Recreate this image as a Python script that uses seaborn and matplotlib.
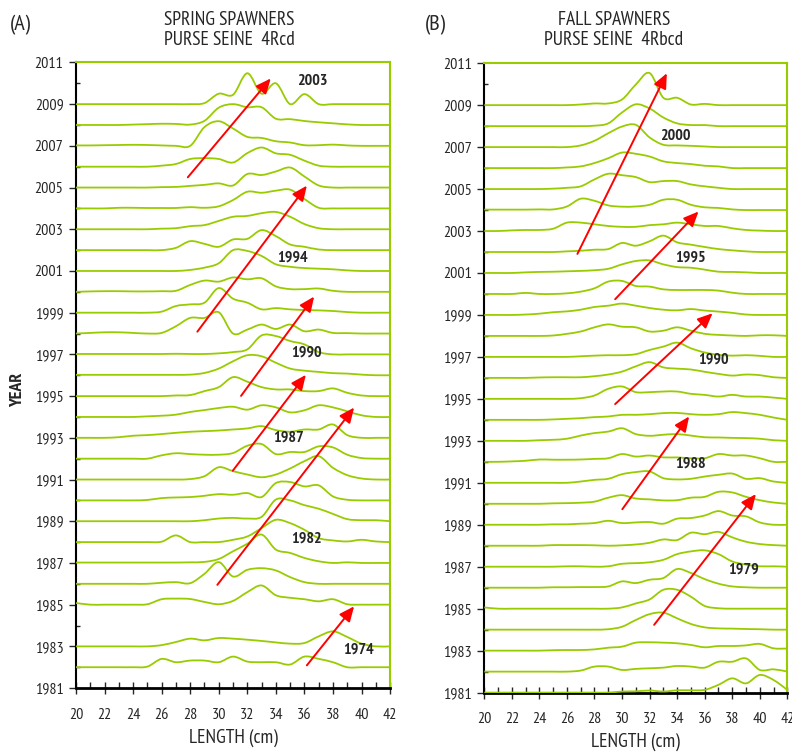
import numpy as np
import matplotlib
matplotlib.use('Agg')
import matplotlib.pyplot as plt
from matplotlib import font_manager
from matplotlib.path import Path
from matplotlib.patches import PathPatch
from matplotlib.ticker import MultipleLocator
import seaborn as sns

# length bins (cm)
lengths = list(range(20, 43))

# (A) spring spawners - relative frequency per length bin, in "year" units above the baseline
spring_years = [2009, 2008, 2007, 2006, 2005, 2004, 2003, 2002, 2001, 2000, 1999, 1998, 1997,
                1996, 1995, 1994, 1993, 1992, 1991, 1990, 1989, 1988, 1987, 1986, 1985, 1983, 1982]
spring_freq = [
    [0, 0, 0, 0, 0, 0, 0, 0, 0, 0.05, 0.5, 0.45, 1.48, 0.5, 1.0, 0, 0.48, 0, 0, 0, 0, 0, 0],
    [0, 0, 0, 0, 0.02, 0.04, 0.06, 0.05, 0.02, 0.2, 0.83, 1.0, 0.85, 0.85, 0.3, 0.28, 0.19, 0.13, 0.08, 0.03, 0, 0, 0],
    [0.02, 0.02, 0.03, 0.04, 0.05, 0.04, 0.02, 0, 0, 0.9, 1.18, 0.83, 0.43, 0.38, 0.22, 0.16, 0.03, 0.03, 0.06, 0.02, 0, 0, 0],
    [0, 0, 0, 0, 0, 0, 0.05, 0.13, 0.37, 0.41, 0.37, 0.2, 0.65, 0.92, 0.64, 0.57, 0.29, 0.05, 0, 0, 0, 0, 0],
    [0, 0, 0, 0, 0, 0, 0.02, 0.03, 0.08, 0.13, 0.2, 0.1, 0.65, 0.6, 0.77, 0.96, 0.53, 0.1, 0, 0, 0, 0, 0],
    [0, 0, 0, 0.03, 0.03, 0.02, 0.02, 0.02, 0.06, 0.03, 0.1, 0.4, 0.8, 0.75, 0.85, 0.9, 0.45, 0.03, 0, 0, 0, 0, 0],
    [0, 0, 0, 0, 0, 0, 0.03, 0.05, 0.15, 0.2, 0.4, 0.6, 0.64, 0.77, 0.83, 0.6, 0.25, 0.05, 0, 0, 0, 0, 0],
    [0, 0, 0, 0, 0, 0, 0, 0.11, 0.43, 0.3, 0.16, 0.51, 0.54, 0.96, 0.67, 0.27, 0.16, 0.03, 0, 0, 0, 0, 0],
    [0, 0, 0, 0, 0, 0, 0, 0, 0.05, 0.16, 0.37, 1.0, 0.96, 0.72, 0.32, 0.2, 0.14, 0.11, 0.08, 0.03, 0, 0, 0],
    [0, 0.02, 0.03, 0.03, 0.02, 0.02, 0.03, 0.05, 0.33, 0.54, 0.49, 0.69, 0.6, 0.65, 0.26, 0.13, 0.13, 0.16, 0.05, 0, 0, 0, 0],
    [0, 0, 0, 0, 0, 0, 0.05, 0.32, 0.4, 0.48, 1.18, 0.67, 0.48, 0.16, 0.22, 0.16, 0.13, 0.11, 0.08, 0.03, 0, 0, 0],
    [0, 0.03, 0.06, 0.06, 0.03, 0, 0.03, 0.35, 0.75, 0.75, 1.02, 0, 0.19, 0.43, 0.22, 0.43, 0.11, 0.19, 0.03, 0.02, 0, 0, 0],
    [0.02, 0.02, 0.02, 0.02, 0.02, 0.02, 0.02, 0.03, 0.02, 0.02, 0.05, 0.11, 0.24, 0.91, 0.88, 0.64, 0.48, 0.11, 0, 0, 0, 0, 0],
    [0.02, 0.02, 0.02, 0.02, 0.02, 0.02, 0.02, 0.02, 0.03, 0.11, 0.32, 0.67, 0.96, 0.91, 0.6, 0.32, 0.22, 0.16, 0.1, 0.08, 0.03, 0, 0],
    [0, 0, 0, 0, 0, 0, 0, 0.03, 0.05, 0.24, 0.43, 0.91, 0.69, 0.43, 0.32, 0.32, 0.24, 0.24, 0.37, 0.16, 0.03, 0, 0],
    [0, 0, 0, 0, 0, 0.03, 0.06, 0.11, 0.24, 0.33, 0.43, 0.49, 0.35, 0.56, 0.46, 0.22, 0.32, 0.56, 0.46, 0.27, 0.08, 0, 0],
    [0, 0, 0, 0.03, 0.1, 0.13, 0.18, 0.24, 0.29, 0.32, 0.35, 0.4, 0.45, 0.56, 0.37, 0.29, 0.4, 0.4, 0.64, 0.13, 0, 0, 0],
    [0, 0, 0, 0, 0, 0, 0.16, 0.26, 0.22, 0.19, 0.19, 0.27, 0.62, 0.7, 0.22, 0.32, 0.32, 0.59, 0.54, 0.19, 0.03, 0, 0],
    [0, 0, 0, 0, 0, 0, 0, 0, 0.02, 0.16, 0.59, 0.4, 0.24, 0.11, 0.24, 0.53, 0.88, 1.12, 0.56, 0.21, 0.05, 0, 0],
    [0, 0, 0, 0, 0, 0.02, 0.11, 0.14, 0.16, 0.22, 0.3, 0.27, 0.35, 0.16, 0.83, 0.88, 0.67, 0.72, 0.19, 0.03, 0, 0, 0],
    [0, 0, 0, 0, 0, 0, 0, 0, 0, 0.05, 0.13, 0.16, 0.13, 0.21, 1.04, 1.0, 0.77, 0.6, 0.35, 0.1, 0.05, 0.05, 0],
    [0, 0, 0, 0, 0, 0, 0.02, 0.32, 0, 0, 0, 0.11, 0.27, 0.67, 1.07, 0.91, 0.59, 0.19, 0.08, 0.03, 0.11, 0.03, 0],
    [0.02, 0.02, 0.02, 0.02, 0.02, 0.02, 0.02, 0.02, 0.03, 0.05, 0.19, 0.56, 0.92, 1.36, 0.64, 0.48, 0.24, 0.08, 0, 0.03, 0, 0, 0],
    [0, 0, 0, 0, 0, 0, 0.05, 0.08, 0.03, 0.48, 1.04, 0.35, 0.67, 0.75, 0.64, 0.32, 0.08, 0, 0, 0, 0, 0, 0],
    [0.08, 0, 0, 0, 0, 0.02, 0.26, 0.29, 0.27, 0.13, 0.02, 0.18, 0.6, 0.92, 0.45, 0.33, 0.26, 0.16, 0.26, 0.02, 0, 0, 0],
    [0, 0, 0, 0, 0, 0, 0.06, 0.21, 0.37, 0.29, 0.4, 0.37, 0.32, 0.26, 0.19, 0.13, 0.16, 0.48, 0.72, 0.45, 0.13, 0, 0],
    [0, 0, 0, 0, 0, 0.03, 0.4, 0.24, 0.32, 0.32, 0.24, 0.51, 0.27, 0.24, 0.24, 0.13, 0.51, 0.4, 0.24, 0, 0, 0, 0],
]

# (B) fall spawners
fall_years = list(range(2009, 1980, -1))
fall_freq = [
    [0, 0, 0, 0, 0, 0, 0, 0.03, 0.08, 0.08, 0.27, 0.98, 1.53, 0.35, 0.35, 0.03, 0.06, 0, 0, 0, 0, 0, 0],
    [0, 0, 0, 0, 0, 0, 0, 0, 0.02, 0.13, 0.65, 1.04, 0.84, 0.41, 0.13, 0.05, 0.05, 0, 0, 0, 0, 0, 0],
    [0, 0, 0, 0, 0, 0, 0, 0.08, 0.3, 0.66, 0.98, 1.06, 0.46, 0.11, 0.08, 0.06, 0.03, 0, 0, 0, 0, 0, 0],
    [0, 0, 0, 0, 0, 0, 0.03, 0.08, 0.24, 0.47, 0.74, 0.68, 0.55, 0.32, 0.24, 0.19, 0.11, 0.08, 0, 0, 0, 0, 0],
    [0, 0, 0, 0, 0, 0.02, 0.06, 0.13, 0.46, 0.73, 0.66, 0.57, 0.33, 0.38, 0.38, 0.22, 0.13, 0.06, 0, 0, 0, 0, 0],
    [0.02, 0.02, 0.02, 0.02, 0.03, 0.03, 0.17, 0.54, 0.44, 0.22, 0.16, 0.17, 0.25, 0.49, 0.49, 0.25, 0.13, 0.1, 0.03, 0, 0, 0, 0],
    [0, 0, 0.03, 0.05, 0.05, 0.11, 0.4, 0.4, 0.32, 0.24, 0.2, 0.2, 0.28, 0.32, 0.4, 0.32, 0.24, 0.24, 0.13, 0.05, 0.02, 0, 0],
    [0, 0, 0, 0, 0, 0, 0.03, 0.06, 0.11, 0.14, 0.43, 0.3, 0.51, 0.78, 0.46, 0.35, 0.24, 0.14, 0.08, 0.03, 0, 0, 0],
    [0, 0, 0, 0.03, 0.05, 0.06, 0.08, 0.1, 0.13, 0.2, 0.41, 0.57, 0.6, 0.41, 0.28, 0.25, 0.16, 0.06, 0.05, 0.03, 0, 0, 0],
    [0, 0, 0, 0.05, 0, 0, 0.03, 0.11, 0.27, 0.59, 0.62, 0.38, 0.35, 0.22, 0.19, 0.19, 0.19, 0.16, 0.06, 0, 0, 0, 0],
    [0, 0, 0, 0.02, 0.06, 0.13, 0.17, 0.25, 0.38, 0.44, 0.54, 0.44, 0.33, 0.25, 0.22, 0.28, 0.21, 0.16, 0.1, 0.02, 0, 0, 0],
    [0, 0, 0, 0, 0, 0.02, 0.1, 0.21, 0.41, 0.55, 0.44, 0.41, 0.21, 0.25, 0.41, 0.25, 0.1, 0.05, 0.02, 0, 0.03, 0.03, 0],
    [0, 0, 0, 0, 0, 0, 0, 0.03, 0.06, 0.08, 0.08, 0.13, 0.33, 0.49, 0.68, 0.41, 0.21, 0.1, 0.06, 0.08, 0.05, 0, 0],
    [0, 0, 0, 0, 0.02, 0.03, 0.03, 0.03, 0.08, 0.16, 0.3, 0.55, 0.75, 0.5, 0.44, 0.4, 0.29, 0.19, 0.11, 0.16, 0.13, 0.03, 0],
    [0, 0, 0, 0, 0, 0, 0, 0.03, 0.16, 0.48, 0.59, 0.32, 0.32, 0.35, 0.35, 0.24, 0.19, 0.11, 0.19, 0.11, 0.11, 0.06, 0],
    [0, 0, 0, 0, 0, 0.02, 0.05, 0.08, 0.13, 0.16, 0.24, 0.24, 0.27, 0.32, 0.33, 0.27, 0.24, 0.27, 0.37, 0.32, 0.24, 0.11, 0],
    [0, 0, 0, 0, 0.03, 0.05, 0.1, 0.25, 0.37, 0.44, 0.6, 0.32, 0.24, 0.29, 0.32, 0.25, 0.17, 0.16, 0.14, 0.13, 0.1, 0.03, 0],
    [0, 0, 0.02, 0.05, 0.11, 0.1, 0.1, 0.11, 0.14, 0.17, 0.37, 0.25, 0.3, 0.21, 0.21, 0.17, 0.17, 0.37, 0.3, 0.3, 0.17, 0, 0],
    [0, 0, 0, 0, 0, 0, 0, 0.06, 0.14, 0.19, 0.41, 0.51, 0.54, 0.22, 0.16, 0.19, 0.3, 0.38, 0.44, 0.19, 0.22, 0.06, 0],
    [0, 0, 0, 0, 0, 0.02, 0.03, 0.05, 0.1, 0.29, 0.41, 0.25, 0.21, 0.16, 0.17, 0.29, 0.33, 0.57, 0.54, 0.33, 0.17, 0.06, 0],
    [0, 0, 0, 0, 0, 0.02, 0.02, 0.05, 0.08, 0.19, 0.08, 0.11, 0.13, 0.05, 0.29, 0.32, 0.44, 0.65, 0.44, 0.4, 0.11, 0, 0],
    [0, 0, 0, 0, 0, 0.03, 0.03, 0.03, 0.02, 0, 0.02, 0.06, 0.14, 0.3, 0.27, 0.62, 0.55, 0.66, 0.4, 0.19, 0.08, 0.03, 0],
    [0, 0, 0, 0, 0, 0, 0.02, 0.02, 0, 0.02, 0.14, 0.17, 0.21, 0.33, 0.6, 0.73, 0.78, 0.6, 0.25, 0.1, 0.02, 0.02, 0],
    [0, 0, 0, 0, 0, 0.02, 0.02, 0.03, 0.03, 0.06, 0.3, 0.22, 0.38, 0.46, 0.89, 0.7, 0.41, 0.19, 0.06, 0.02, 0, 0, 0],
    [0.06, 0, 0, 0, 0, 0, 0, 0, 0, 0, 0.06, 0.25, 0.44, 0.9, 0.9, 0.57, 0.13, 0.02, 0, 0, 0, 0, 0],
    [0, 0, 0, 0, 0, 0, 0, 0, 0, 0.02, 0.14, 0.46, 0.74, 0.81, 0.54, 0.27, 0.11, 0.06, 0.05, 0.03, 0.02, 0, 0],
    [0, 0, 0, 0, 0, 0.02, 0.03, 0.03, 0.06, 0.14, 0.19, 0.38, 0.4, 0.38, 0.35, 0.27, 0.16, 0.22, 0.22, 0.25, 0.32, 0.11, 0.1],
    [0, 0, 0, 0, 0, 0, 0, 0.05, 0.24, 0.24, 0.08, 0.13, 0.16, 0.19, 0.27, 0.24, 0.19, 0.47, 0.47, 0.63, 0.08, 0.11, 0],
    [0, 0, 0, 0, 0, 0, 0, 0, 0, 0, 0.05, 0.06, 0.1, 0.05, 0.11, 0.11, 0.13, 0.37, 0.68, 0.44, 0.84, 0.6, 0.13],
]

# cohort arrows: (tail length, tail year, head length, head year)
spring_arrows = [(27.83, 2005.49, 33.64, 2010.23), (28.5, 1998.09, 36.17, 2005.09),
                 (31.56, 1995.01, 36.68, 1999.77), (30.98, 1991.42, 36.1, 1996.02),
                 (29.9, 1985.95, 39.48, 1994.45), (36.17, 1982.09, 39.48, 1984.92)]
fall_arrows = [(26.76, 2001.91, 33.25, 2010.52), (29.5, 1999.75, 35.55, 2003.93),
               (29.5, 1994.75, 36.57, 1999.08), (30.02, 1989.74, 34.87, 1994.16),
               (32.33, 1984.23, 39.72, 1990.46)]

# year-class labels
spring_cohorts = [('2003', 36.58, 2010.1), ('1994', 35.18, 2001.64), ('1990', 36.16, 1997.08),
                  ('1987', 34.88, 1993.01), ('1982', 36.16, 1988.19), ('1974', 39.78, 1982.84)]
fall_cohorts = [('2000', 33.9, 2007.53), ('1995', 34.95, 2001.75), ('1990', 36.63, 1996.86),
                ('1988', 34.95, 1991.89), ('1979', 38.82, 1986.88)]

GREEN = '#99cc00'

sns.set_style('ticks')


def _w(w):
    if isinstance(w, str):
        return 700 if 'bold' in w.lower() else 400
    return w


# pick a narrow family that also has a bold face
weights = {}
for f in font_manager.fontManager.ttflist:
    if 'Narrow' in f.name or 'Condensed' in f.name:
        weights.setdefault(f.name, set()).add(_w(f.weight))
narrow = sorted(weights, key=lambda n: (max(weights[n]) < 600, 'Narrow' not in n, n))
if narrow:
    plt.rcParams['font.family'] = [narrow[0], 'DejaVu Sans']
else:
    plt.rcParams['font.family'] = ['DejaVu Sans']
    plt.rcParams['font.stretch'] = 'condensed'


def smooth_path(x, y):
    # Excel-like smoothed line (Catmull-Rom as cubic Bezier)
    px = np.r_[x[0], x, x[-1]]
    py = np.r_[y[0], y, y[-1]]
    verts = [(px[1], py[1])]
    codes = [Path.MOVETO]
    for i in range(1, len(px) - 2):
        c1 = (px[i] + (px[i + 1] - px[i - 1]) / 6, py[i] + (py[i + 1] - py[i - 1]) / 6)
        c2 = (px[i + 1] - (px[i + 2] - px[i]) / 6, py[i + 1] - (py[i + 2] - py[i]) / 6)
        verts += [c1, c2, (px[i + 1], py[i + 1])]
        codes += [Path.CURVE4] * 3
    return Path(verts, codes)


def draw_panel(ax, years, freq, arrows, cohorts):
    x = np.array(lengths, dtype=float)
    for yr, row in zip(years, freq):
        y = yr + np.array(row, dtype=float)
        ax.add_patch(PathPatch(smooth_path(x, y), facecolor='none', edgecolor=GREEN,
                               lw=1.3, zorder=3))
    for x0, y0, x1, y1 in arrows:
        ax.annotate('', xy=(x1, y1), xytext=(x0, y0),
                    arrowprops=dict(arrowstyle='-|>,head_length=0.45,head_width=0.2',
                                    color='red', lw=1.4, mutation_scale=20,
                                    shrinkA=0, shrinkB=0), zorder=5)
    for txt, lx, ly in cohorts:
        ax.text(lx, ly, txt, ha='center', va='center', fontsize=11.5, weight='bold', zorder=6)

    ax.set_xlim(20, 42)
    ax.set_ylim(1981, 2011)
    ax.set_xticks(range(20, 43, 2))
    ax.set_yticks(range(1981, 2012, 2))
    ax.xaxis.set_minor_locator(MultipleLocator(1))
    ax.yaxis.set_minor_locator(MultipleLocator(1))
    ax.tick_params(axis='y', which='major', direction='out', length=5, width=1, labelsize=11.5, pad=4)
    ax.tick_params(axis='y', which='minor', direction='in', length=3, width=1)
    ax.tick_params(axis='x', which='major', direction='inout', length=8, width=1, labelsize=11.5, pad=10)
    ax.tick_params(axis='x', which='minor', direction='in', length=4, width=1)
    for side in ['top', 'right']:
        ax.spines[side].set_color(GREEN)
        ax.spines[side].set_linewidth(1.5)
    ax.spines['left'].set_color('black')
    ax.spines['left'].set_linewidth(1.5)
    ax.spines['bottom'].set_color('black')
    ax.spines['bottom'].set_linewidth(2)
    ax.set_xlabel('LENGTH (cm)', fontsize=14, labelpad=5)


fig = plt.figure(figsize=(7.92, 7.52), dpi=100)
axA = fig.add_axes([0.096, 0.085, 0.3965, 0.832])
axB = fig.add_axes([0.6115, 0.079, 0.3826, 0.837])

draw_panel(axA, spring_years, spring_freq, spring_arrows, spring_cohorts)
draw_panel(axB, fall_years, fall_freq, fall_arrows, fall_cohorts)

fig.text(0.290, 0.96, 'SPRING SPAWNERS\nPURSE SEINE  4Rcd', ha='center', va='center',
         fontsize=14, linespacing=1.2)
fig.text(0.775, 0.96, 'FALL SPAWNERS\nPURSE SEINE  4Rbcd', ha='center', va='center',
         fontsize=14, linespacing=1.2)
fig.text(0.013, 1 - 25 / 752, '(A)', ha='left', va='center', fontsize=16)
fig.text(0.537, 1 - 25 / 752, '(B)', ha='left', va='center', fontsize=16)
fig.text(18 / 792, 1 - 390 / 752, 'YEAR', rotation=90, ha='center', va='center',
         fontsize=13, weight='bold')

fig.savefig('out.png', dpi=100)
